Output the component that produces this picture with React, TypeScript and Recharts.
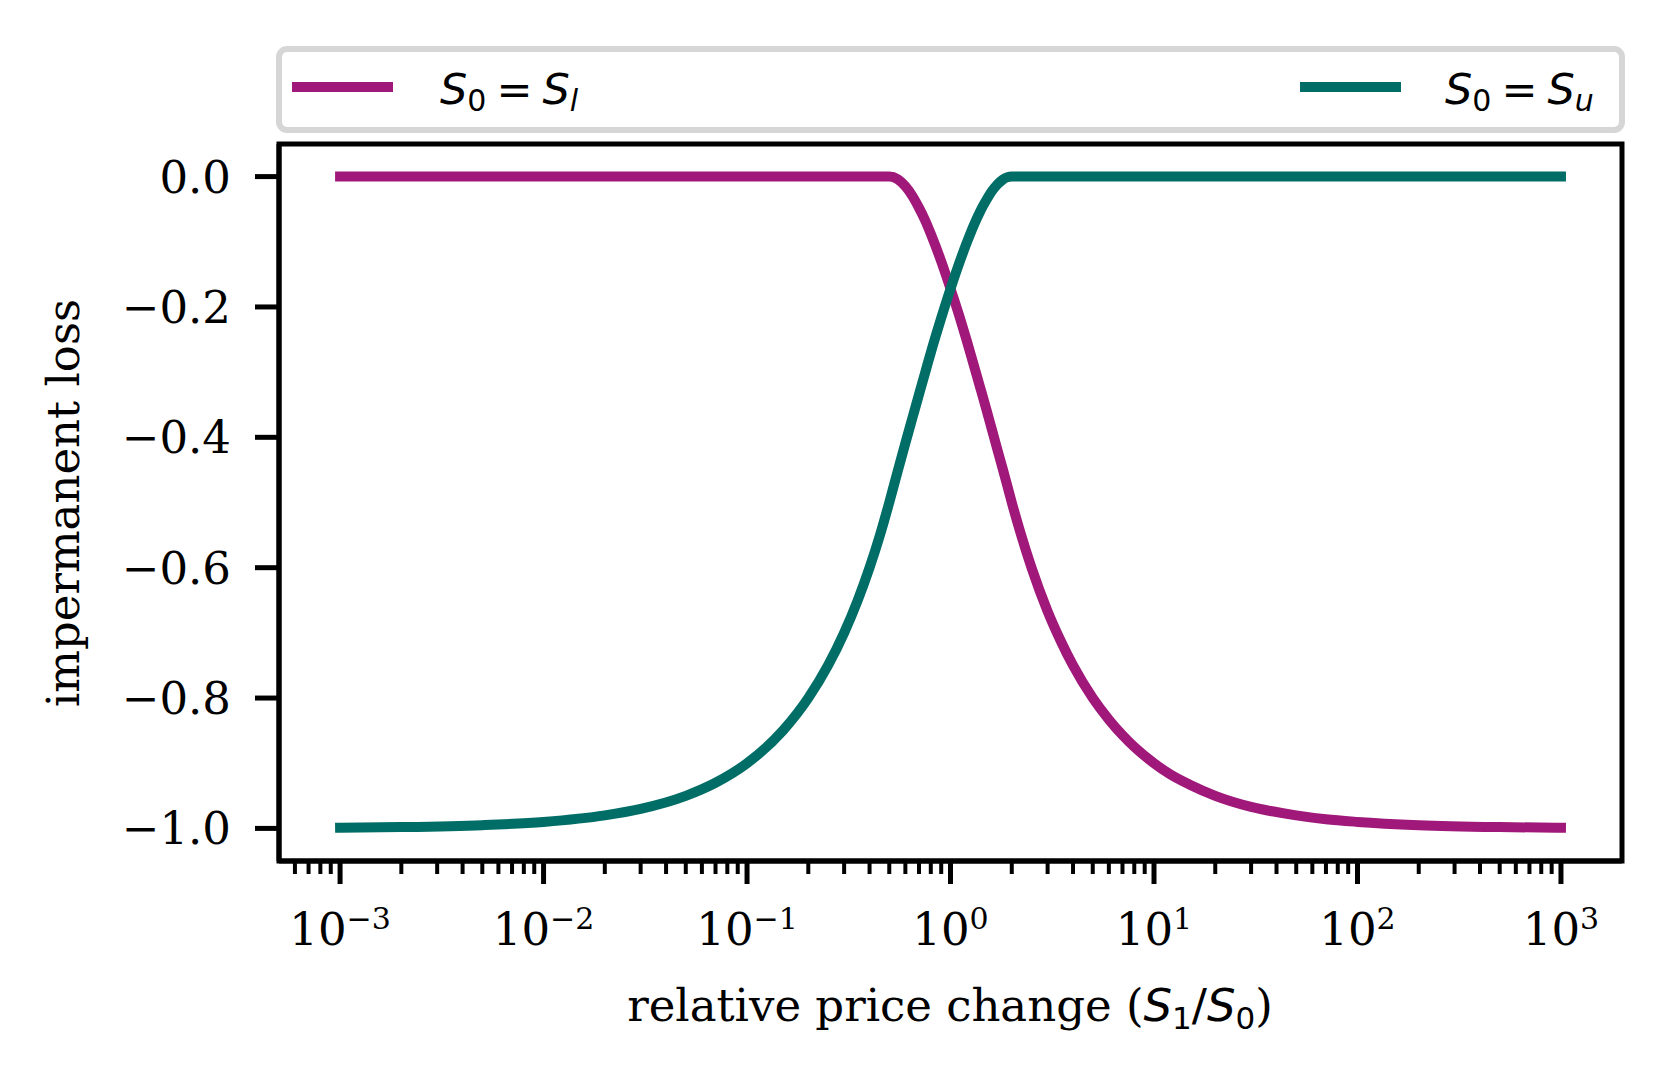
import { LineChart, Line, XAxis, YAxis, Legend, ReferenceArea } from "recharts"

// relative price change S1/S0
const priceRatio = [
  0.001, 0.002, 0.005, 0.01, 0.02, 0.03, 0.05, 0.07, 0.1, 0.15, 0.2, 0.25, 0.3, 0.35, 0.4, 0.45, 0.5,
  0.55, 0.6, 0.65, 0.7, 0.75, 0.8, 0.9, 1.0, 1.1, 1.2, 1.3, 1.4, 1.5, 1.6, 1.7, 1.8, 1.9, 2.0,
  2.2, 2.5, 3, 3.5, 4, 5, 6, 7, 8, 10, 12, 15, 20, 30, 50, 70, 100, 200, 500, 1000,
]

// impermanent loss, S0 = S_l
const lossAtLower = [
  0, 0, 0, 0, 0, 0, 0, 0, 0, 0, 0, 0, 0, 0, 0, 0, 0,
  -0.004, -0.015, -0.03, -0.048, -0.067, -0.088, -0.13, -0.172, -0.212, -0.251, -0.289, -0.324, -0.357, -0.389, -0.419, -0.447, -0.474, -0.5,
  -0.545, -0.6, -0.667, -0.714, -0.75, -0.8, -0.833, -0.857, -0.875, -0.9, -0.917, -0.933, -0.95, -0.967, -0.98, -0.986, -0.99, -0.995, -0.998, -0.999,
]

// impermanent loss, S0 = S_u
const lossAtUpper = [
  -0.999, -0.998, -0.995, -0.99, -0.98, -0.97, -0.95, -0.93, -0.9, -0.85, -0.8, -0.75, -0.7, -0.65, -0.6, -0.55, -0.5,
  -0.452, -0.409, -0.37, -0.334, -0.301, -0.27, -0.217, -0.172, -0.134, -0.102, -0.075, -0.053, -0.036, -0.022, -0.012, -0.005, -0.001, 0,
  0, 0, 0, 0, 0, 0, 0, 0, 0, 0, 0, 0, 0, 0, 0, 0, 0, 0, 0, 0,
]

const majorTicks = [0.001, 0.01, 0.1, 1, 10, 100, 1000]
const minorTicks = [
  0.0006, 0.0007, 0.0008, 0.0009,
  0.002, 0.003, 0.004, 0.005, 0.006, 0.007, 0.008, 0.009,
  0.02, 0.03, 0.04, 0.05, 0.06, 0.07, 0.08, 0.09,
  0.2, 0.3, 0.4, 0.5, 0.6, 0.7, 0.8, 0.9,
  2, 3, 4, 5, 6, 7, 8, 9,
  20, 30, 40, 50, 60, 70, 80, 90,
  200, 300, 400, 500, 600, 700, 800, 900,
]
const yTicks = [0, -0.2, -0.4, -0.6, -0.8, -1.0]

const xDomain = [0.000501, 1995]
const yDomain = [-1.05, 0.05]

const series = [
  { key: "lower", name: "S0 = Sl", sub: "l", color: "#A0197A" },
  { key: "upper", name: "S0 = Su", sub: "u", color: "#006E66" },
]

const data = priceRatio.map((r, i) => ({ ratio: r, lower: lossAtLower[i], upper: lossAtUpper[i] }))

const serif = "'DejaVu Serif', serif"
const sans = "'DejaVu Sans', sans-serif"

function XTick(props: any) {
  const { x, y, payload } = props
  const v = payload.value
  const major = majorTicks.includes(v)
  const exp = Math.round(Math.log10(v))
  return (
    <g>
      <line x1={x} x2={x} y1={y} y2={y + (major ? 23 : 13)} stroke="#000" strokeWidth={major ? 5 : 4} />
      {major && (
        <text x={x} y={y + 84} textAnchor="middle" fontFamily={serif} fontSize={45} fill="#000">
          10
          <tspan dy={-16} fontSize={30}>{exp < 0 ? "\u2212" + -exp : String(exp)}</tspan>
        </text>
      )}
    </g>
  )
}

// legend entry slots inside the frame (left entry, right entry)
const legendSlots = [
  { line: 10, text: 158 },
  { line: 1018, text: 1163 },
]

function renderLegend(props: any) {
  const { payload } = props
  return (
    <div
      style={{
        boxSizing: "border-box",
        width: 1349,
        height: 87,
        border: "6px solid #d6d6d6",
        borderRadius: 11,
        background: "#fff",
      }}
    >
      <svg width={1337} height={75} style={{ display: "block" }}>
        {payload.map((entry: any, i: number) => {
          const s = series.find((d) => d.key === entry.dataKey)
          const slot = legendSlots[i] || legendSlots[0]
          return (
            <g key={entry.dataKey}>
              <line x1={slot.line} x2={slot.line + 101} y1={35} y2={35} stroke={entry.color} strokeWidth={10} />
              <text x={slot.text} y={52} fontFamily={sans} fontSize={43} fill="#000">
                <tspan fontStyle="italic">S</tspan>
                <tspan fontSize={30} dy={7}>0</tspan>
                <tspan dy={-7} dx={10}>=</tspan>
                <tspan dx={10} fontStyle="italic">S</tspan>
                <tspan fontSize={30} dy={7} fontStyle="italic">{s ? s.sub : ""}</tspan>
              </text>
            </g>
          )
        })}
      </svg>
    </div>
  )
}

export default function App() {
  return (
    <div style={{ position: "absolute", left: 0, top: 0, width: 1671, height: 1080, background: "#fff" }}>
      <LineChart width={1671} height={1080} data={data} margin={{ top: 144, right: 49, bottom: 119, left: 79 }}>
        <XAxis
          dataKey="ratio"
          type="number"
          scale="log"
          domain={xDomain}
          allowDataOverflow
          ticks={[...minorTicks, ...majorTicks].sort((a, b) => a - b)}
          interval={0}
          height={100}
          tickSize={0}
          tickMargin={0}
          tickLine={false}
          axisLine={{ stroke: "#000", strokeWidth: 5 }}
          tick={<XTick />}
        />
        <YAxis
          type="number"
          domain={yDomain}
          allowDataOverflow
          ticks={yTicks}
          interval={0}
          width={200}
          tickSize={24}
          tickMargin={24}
          tickLine={{ stroke: "#000", strokeWidth: 5 }}
          axisLine={{ stroke: "#000", strokeWidth: 5 }}
          tick={{ fill: "#000", fontSize: 45, fontFamily: serif }}
          tickFormatter={(v: number) => (v < 0 ? "\u2212" : "") + Math.abs(v).toFixed(1)}
        />
        <ReferenceArea
          x1={xDomain[0]}
          x2={xDomain[1]}
          y1={yDomain[0]}
          y2={yDomain[1]}
          fill="none"
          fillOpacity={0}
          stroke="#000"
          strokeWidth={5}
          ifOverflow="visible"
        />
        {series.map((s) => (
          <Line
            key={s.key}
            dataKey={s.key}
            name={s.name}
            type="monotone"
            stroke={s.color}
            strokeWidth={10}
            strokeLinecap="square"
            dot={false}
            activeDot={false}
            isAnimationActive={false}
          />
        ))}
        <Legend
          layout="horizontal"
          verticalAlign="middle"
          align="center"
          content={renderLegend}
          wrapperStyle={{ position: "absolute", top: 46, left: 276, width: 1349, height: 87 }}
        />
      </LineChart>
      <svg
        width={1671}
        height={1080}
        style={{ position: "absolute", left: 0, top: 0, pointerEvents: "none" }}
      >
        <text
          x={79}
          y={503}
          transform="rotate(-90 79 503)"
          textAnchor="middle"
          fontFamily={serif}
          fontSize={45}
          fill="#000"
        >
          impermanent loss
        </text>
        <text x={950} y={1021} textAnchor="middle" fontFamily={serif} fontSize={45} fill="#000">
          relative price change (
          <tspan fontFamily={sans} fontStyle="italic">S</tspan>
          <tspan fontFamily={sans} fontSize={31} dy={8}>1</tspan>
          <tspan fontFamily={sans} dy={-8}>/</tspan>
          <tspan fontFamily={sans} fontStyle="italic">S</tspan>
          <tspan fontFamily={sans} fontSize={31} dy={8}>0</tspan>
          <tspan dy={-8}>)</tspan>
        </text>
      </svg>
    </div>
  )
}
